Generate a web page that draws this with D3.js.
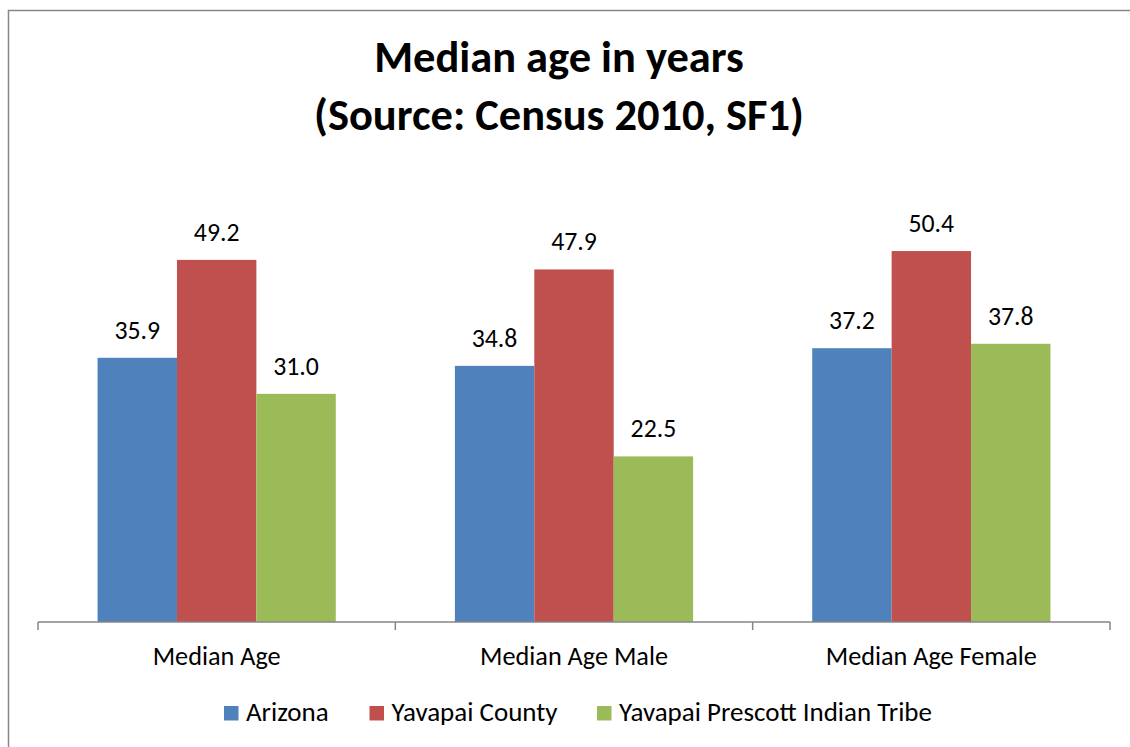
<!DOCTYPE html>
<html>
<head>
<meta charset="utf-8">
<script src="https://cdn.jsdelivr.net/npm/d3@7"></script>
<style>
  html, body { margin: 0; padding: 0; background: #ffffff; }
  svg { display: block; }
</style>
</head>
<body>
<svg id="chart" width="1130" height="747"></svg>
<script>
const titleLines = ["Median age in years", "(Source: Census 2010, SF1)"];
const categories = ["Median Age", "Median Age Male", "Median Age Female"];
const seriesNames = ["Arizona", "Yavapai County", "Yavapai Prescott Indian Tribe"];
const arizona = [35.9, 34.8, 37.2];
const yavapaiCounty = [49.2, 47.9, 50.4];
const yavapaiTribe = [31.0, 22.5, 37.8];
const seriesColors = ["#4F81BD", "#C0504D", "#9BBB59"];

const seriesValues = [arizona, yavapaiCounty, yavapaiTribe];
const FONT = "Carlito, Calibri, Lato, 'Open Sans', sans-serif";

const svg = d3.select("#chart");

// fit font size so that a reference string has a target width
function fitSize(text, target, weight, base) {
  const t = svg.append("text").attr("font-family", FONT).attr("font-size", base)
    .attr("font-weight", weight).text(text);
  const w = t.node().getComputedTextLength();
  t.remove();
  return base * target / w;
}

// chart border
svg.append("rect").attr("x", 8.5).attr("y", 10.5).attr("width", 1300).attr("height", 900)
  .attr("fill", "none").attr("stroke", "#868686").attr("stroke-width", 1.5);

const plotLeft = 38, plotRight = 1110, axisY = 622;
const x0 = d3.scaleBand().domain(categories).range([plotLeft, plotRight]).padding(0);
const x1 = d3.scaleBand().domain(seriesNames).range([0, x0.bandwidth()])
  .paddingInner(0).paddingOuter(0.75);
const y = d3.scaleLinear().domain([0, 60]).range([axisY, axisY - 60 * 7.36]);

// title
const titleSize = fitSize(titleLines[1], 490, "bold", 40);
const titleBase = [72, 130];
svg.selectAll("text.title").data(titleLines).enter().append("text")
  .attr("class", "title")
  .attr("x", 559).attr("y", (d, i) => titleBase[i])
  .attr("text-anchor", "middle").attr("font-family", FONT)
  .attr("font-weight", "bold").attr("font-size", titleSize)
  .attr("fill", "#000").text(d => d);

// bars
const rows = [];
categories.forEach((c, ci) => {
  seriesNames.forEach((s, si) => {
    rows.push({ cat: c, series: s, value: seriesValues[si][ci], color: seriesColors[si] });
  });
});

svg.append("g").selectAll("rect").data(rows).enter().append("rect")
  .attr("x", d => x0(d.cat) + x1(d.series))
  .attr("y", d => y(d.value))
  .attr("width", x1.bandwidth())
  .attr("height", d => y(0) - y(d.value))
  .attr("fill", d => d.color);

// data labels
const labelSize = fitSize("49.2", 45.7, "normal", 22);
svg.append("g").selectAll("text").data(rows).enter().append("text")
  .attr("x", d => x0(d.cat) + x1(d.series) + x1.bandwidth() / 2)
  .attr("y", d => y(d.value) - 19)
  .attr("text-anchor", "middle").attr("font-family", FONT)
  .attr("font-size", labelSize).attr("fill", "#000")
  .text(d => d3.format(".1f")(d.value));

// x axis: line + boundary ticks
const axisG = svg.append("g");
axisG.append("line").attr("x1", plotLeft).attr("x2", plotRight)
  .attr("y1", axisY).attr("y2", axisY)
  .attr("stroke", "#868686").attr("stroke-width", 1.5);
const tickXs = categories.map(c => x0(c)).concat([x0(categories[categories.length - 1]) + x0.bandwidth()]);
axisG.selectAll("line.tick").data(tickXs).enter().append("line")
  .attr("class", "tick")
  .attr("x1", d => d).attr("x2", d => d)
  .attr("y1", axisY).attr("y2", axisY + 8)
  .attr("stroke", "#868686").attr("stroke-width", 1.5);

// category labels
const catSize = fitSize("Median Age", 128, "normal", 22);
axisG.selectAll("text").data(categories).enter().append("text")
  .attr("x", d => x0(d) + x0.bandwidth() / 2)
  .attr("y", 665)
  .attr("text-anchor", "middle").attr("font-family", FONT)
  .attr("font-size", catSize).attr("fill", "#000").text(d => d);

// legend
const legSize = fitSize("Yavapai Prescott Indian Tribe", 313, "normal", 22);
const legStartX = [224, 369.5, 597];
const leg = svg.append("g");
const items = leg.selectAll("g").data(seriesNames).enter().append("g")
  .attr("transform", (d, i) => `translate(${legStartX[i]},0)`);
items.append("rect").attr("x", 0).attr("y", 706).attr("width", 14.5).attr("height", 14.5)
  .attr("fill", (d, i) => seriesColors[i]);
items.append("text").attr("x", 22).attr("y", 720.5)
  .attr("font-family", FONT).attr("font-size", legSize).attr("fill", "#000")
  .text(d => d);
</script>
</body>
</html>
